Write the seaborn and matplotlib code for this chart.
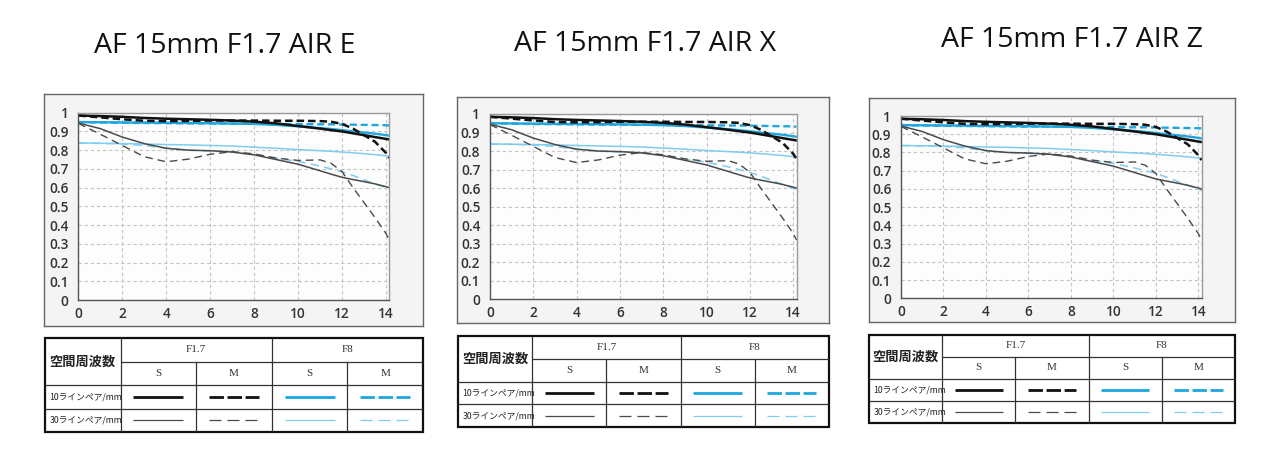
import matplotlib
matplotlib.use('Agg')
import matplotlib.pyplot as plt
import seaborn as sns
from matplotlib.patches import Rectangle

sns.set_theme(style='white')
plt.rcParams['font.family'] = ['Open Sans', 'Noto Sans CJK JP', 'DejaVu Sans']

W, H = 1280, 463

# --- data (same MTF curves on all three panels) ---
titles = ['AF 15mm F1.7 AIR E', 'AF 15mm F1.7 AIR X', 'AF 15mm F1.7 AIR Z']

mtf_x = [0, 1, 2, 3, 4, 5, 6, 7, 8, 9, 10, 11, 11.5, 12, 12.5, 13, 13.5, 14, 14.15]

f17_s_10 = [0.985, 0.982, 0.978, 0.972, 0.968, 0.965, 0.962, 0.958, 0.952, 0.943, 0.929, 0.915, 0.907,
            0.900, 0.890, 0.880, 0.870, 0.860, 0.857]
f17_m_10 = [0.985, 0.975, 0.965, 0.957, 0.955, 0.956, 0.958, 0.958, 0.958, 0.957, 0.957, 0.955, 0.952,
            0.940, 0.915, 0.880, 0.845, 0.785, 0.758]
f8_s_10 = [0.950, 0.949, 0.948, 0.947, 0.946, 0.945, 0.944, 0.942, 0.940, 0.935, 0.927, 0.918, 0.913,
           0.907, 0.900, 0.894, 0.888, 0.880, 0.877]
f8_m_10 = [0.950, 0.948, 0.946, 0.945, 0.944, 0.943, 0.942, 0.942, 0.941, 0.940, 0.939, 0.938, 0.938,
           0.937, 0.936, 0.935, 0.934, 0.933, 0.932]
f17_s_30 = [0.945, 0.915, 0.870, 0.835, 0.810, 0.800, 0.797, 0.790, 0.775, 0.750, 0.725, 0.690, 0.672,
            0.655, 0.643, 0.632, 0.620, 0.605, 0.600]
f17_m_30 = [0.943, 0.885, 0.825, 0.765, 0.738, 0.752, 0.778, 0.792, 0.780, 0.758, 0.745, 0.748, 0.730,
            0.685, 0.600, 0.520, 0.440, 0.355, 0.320]
f8_s_30 = [0.838, 0.837, 0.835, 0.833, 0.830, 0.828, 0.825, 0.822, 0.816, 0.810, 0.803, 0.797, 0.794,
           0.790, 0.786, 0.781, 0.776, 0.770, 0.768]
f8_m_30 = [0.838, 0.836, 0.833, 0.825, 0.810, 0.800, 0.795, 0.790, 0.777, 0.757, 0.740, 0.715, 0.700,
           0.685, 0.665, 0.642, 0.620, 0.600, 0.590]

x_ticks = [0, 2, 4, 6, 8, 10, 12, 14]
y_ticks = [0, 0.1, 0.2, 0.3, 0.4, 0.5, 0.6, 0.7, 0.8, 0.9, 1.0]
y_tick_labels = ['0', '0.1', '0.2', '0.3', '0.4', '0.5', '0.6', '0.7', '0.8', '0.9', '1']

header_label = '空間周波数'
apertures = ['F1.7', 'F8']
orientations = ['S', 'M']
row_labels = ['10ラインペア/mm', '30ラインペア/mm']

# --- styles ---
BLACK, GRAY = '#111111', '#4a4a4a'
BLUE, LBLUE = '#1ea6e0', '#7fcdf0'
THICK_DASH = (0, (3.0, 1.6))
THIN_DASH = (0, (5.5, 3.5))

# (values, color, linewidth, linestyle), drawing order
series = [
    (f8_m_10, BLUE, 1.7, THICK_DASH),
    (f8_s_10, BLUE, 1.7, '-'),
    (f8_m_30, LBLUE, 1.1, THIN_DASH),
    (f8_s_30, LBLUE, 1.1, '-'),
    (f17_s_30, GRAY, 1.1, '-'),
    (f17_m_30, GRAY, 1.0, THIN_DASH),
    (f17_s_10, BLACK, 1.8, '-'),
    (f17_m_10, BLACK, 1.8, THICK_DASH),
]

# legend sample style per (row, col)
legend_styles = [
    [(BLACK, 2.0, '-'), (BLACK, 2.0, (0, (5.2, 1.3))), (BLUE, 2.0, '-'), (BLUE, 2.0, (0, (5.2, 1.3)))],
    [(GRAY, 0.9, '-'), (GRAY, 0.9, (0, (9.6, 4.8))), (LBLUE, 0.9, '-'), (LBLUE, 0.9, (0, (9.6, 4.8)))],
]

# --- layout in pixels (left, top, right, bottom) ---
panels = [
    dict(title_xy=(225, 46), frame=(44, 94, 423, 326), plot=(78.3, 112.7, 389.3, 300),
         table=(45, 338, 423, 432)),
    dict(title_xy=(645, 44), frame=(457, 97, 829, 323), plot=(490, 114, 796.5, 299.3),
         table=(458, 336, 829, 427)),
    dict(title_xy=(1072, 40), frame=(869, 98, 1235, 322), plot=(901, 116, 1201.5, 298.3),
         table=(869, 335, 1235, 423)),
]


def frac(box):
    l, t, r, b = box
    return [l / W, 1 - b / H, (r - l) / W, (b - t) / H]


fig = plt.figure(figsize=(W / 100, H / 100), dpi=100)
fig.patch.set_facecolor('white')

for title, p in zip(titles, panels):
    tx, ty = p['title_xy']
    fig.text(tx / W, 1 - ty / H, title, ha='center', va='center', fontsize=20.5,
             color='#111111', family=['Open Sans', 'DejaVu Sans'])

    # outer frame
    bg = fig.add_axes(frac(p['frame']))
    bg.set_facecolor('#f4f4f4')
    bg.set_xticks([])
    bg.set_yticks([])
    for s in bg.spines.values():
        s.set_color('#666666')
        s.set_linewidth(1.0)

    # MTF plot
    ax = fig.add_axes(frac(p['plot']))
    ax.set_facecolor('#fdfdfd')
    for vals, color, lw, ls in series:
        sns.lineplot(x=mtf_x, y=vals, ax=ax, color=color, lw=lw, linestyle=ls)
    ax.set_xlim(0, 14.15)
    ax.set_ylim(0, 1.0)
    ax.set_xticks(x_ticks)
    ax.set_yticks(y_ticks)
    ax.set_yticklabels(y_tick_labels)
    ax.grid(True, color='#c4c4c4', linestyle=(0, (3, 2.5)), linewidth=0.8)
    ax.set_xlabel('')
    ax.set_ylabel('')
    ax.tick_params(length=0, labelsize=9.8, labelcolor='#333333')
    ax.tick_params(axis='y', pad=7)
    ax.tick_params(axis='x', pad=5)
    for lab in ax.get_xticklabels() + ax.get_yticklabels():
        lab.set_fontweight('semibold')
    for side, s in ax.spines.items():
        s.set_visible(True)
        s.set_linewidth(1.0)
        s.set_color('#555555' if side in ('left', 'bottom') else '#9a9a9a')

    # legend table
    tb = fig.add_axes(frac(p['table']))
    tb.set_xlim(0, 5)
    tb.set_ylim(4, 0)
    tb.axis('off')
    tb.add_patch(Rectangle((0, 0), 5, 4, facecolor='white', edgecolor='none'))
    lc, lw_in = '#333333', 0.9
    tb.hlines([2, 3], 0, 5, color=lc, lw=lw_in)
    tb.hlines([1], 1, 5, color=lc, lw=lw_in)
    tb.vlines([1, 3], 0, 4, color=lc, lw=lw_in)
    tb.vlines([2, 4], 1, 4, color=lc, lw=lw_in)
    tb.add_patch(Rectangle((0, 0), 5, 4, facecolor='none', edgecolor='#111111', lw=1.6,
                           clip_on=False))

    tb.text(0.5, 1.0, header_label, ha='center', va='center', fontsize=9.5, fontweight='bold',
            color='#222222', family=['Noto Sans CJK JP'])
    for i, ap in enumerate(apertures):
        tb.text(1 + 2 * i + 1, 0.5, ap, ha='center', va='center', fontsize=8,
                color='#333333', family=['Liberation Serif'])
        for j, o in enumerate(orientations):
            tb.text(1 + 2 * i + j + 0.5, 1.5, o, ha='center', va='center', fontsize=8,
                    color='#333333', family=['Liberation Serif'])
    for r, lab in enumerate(row_labels):
        tb.text(0.06, 2.5 + r, lab, ha='left', va='center', fontsize=6.3,
                color='#222222', family=['Noto Sans CJK JP'])
        for c in range(4):
            color, lw, ls = legend_styles[r][c]
            tb.plot([1 + c + 0.17, 1 + c + 0.83], [2.5 + r, 2.5 + r], color=color, lw=lw,
                    linestyle=ls, dash_capstyle='butt', solid_capstyle='butt')

fig.savefig('out.png', dpi=100, facecolor='white')
